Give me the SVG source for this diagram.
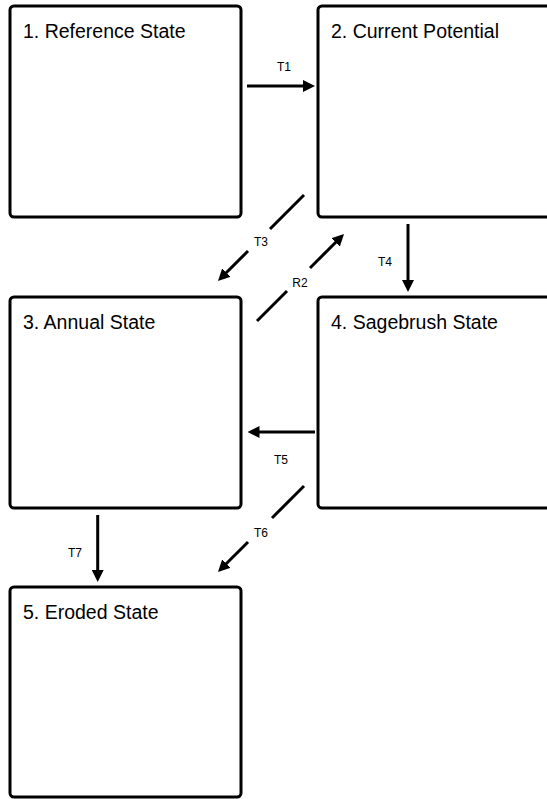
<svg xmlns="http://www.w3.org/2000/svg" width="547" height="799" viewBox="0 0 547 799">
<style>
.box{fill:#fff;stroke:#000;stroke-width:3}
.ttl{font-family:"Liberation Sans",Arial,sans-serif;font-size:19.5px;fill:#000}
.lbl{font-family:"Liberation Sans",Arial,sans-serif;font-size:12px;fill:#000;text-anchor:middle}
.ln{stroke:#000;stroke-width:3;fill:none}
.arr{stroke:#000;stroke-width:3;fill:none;marker-end:url(#ah)}
</style>
<defs>
<marker id="ah" markerUnits="userSpaceOnUse" markerWidth="12" markerHeight="12" viewBox="0 0 12 12" refX="6" refY="6" orient="auto">
<path d="M0,0 L12,6 L0,12 z" fill="#000"/>
</marker>
</defs>
<rect width="547" height="799" fill="#fff"/>
<g id="node1"><rect class="box" x="10" y="6" width="231" height="211" rx="4"/><text class="ttl" x="23" y="38">1. Reference State</text></g>
<g id="node2"><rect class="box" x="318" y="6" width="235" height="211" rx="4"/><text class="ttl" x="331" y="38">2. Current Potential</text></g>
<g id="node3"><rect class="box" x="10" y="297" width="231" height="211" rx="4"/><text class="ttl" x="23" y="329">3. Annual State</text></g>
<g id="node4"><rect class="box" x="318" y="297" width="235" height="211" rx="4"/><text class="ttl" x="331" y="329">4. Sagebrush State</text></g>
<g id="node5"><rect class="box" x="10" y="587" width="231" height="210" rx="4"/><text class="ttl" x="23" y="619">5. Eroded State</text></g>
<g id="connectors">
<line class="arr" x1="247" y1="86" x2="309" y2="86"/>
<text class="lbl" x="284" y="71">T1</text>
<line class="ln" x1="304" y1="195" x2="270" y2="229"/>
<line class="arr" x1="248" y1="251" x2="222.2" y2="276.8"/>
<text class="lbl" x="261" y="246">T3</text>
<line class="ln" x1="257" y1="321" x2="287" y2="291"/>
<line class="arr" x1="310" y1="268" x2="339.8" y2="238.2"/>
<text class="lbl" x="300" y="286.5">R2</text>
<line class="arr" x1="408" y1="224" x2="408" y2="286"/>
<text class="lbl" x="385" y="266">T4</text>
<line class="arr" x1="315" y1="432" x2="253.5" y2="432"/>
<text class="lbl" x="281" y="463.5">T5</text>
<line class="ln" x1="304" y1="486" x2="272" y2="518"/>
<line class="arr" x1="248" y1="542" x2="222.2" y2="567.8"/>
<text class="lbl" x="261" y="536.5">T6</text>
<line class="arr" x1="97.7" y1="515" x2="97.7" y2="576"/>
<text class="lbl" x="75" y="557">T7</text>
</g>
</svg>
